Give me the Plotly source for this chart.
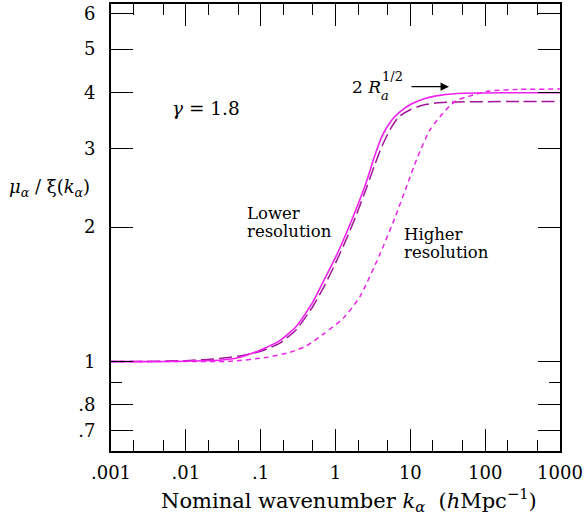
import plotly.graph_objects as go

# ---- data ----
k_low = [0.001, 0.003, 0.01, 0.03, 0.05, 0.072, 0.1, 0.18, 0.3, 0.5, 0.7, 1.0, 1.4, 1.9,
         2.6, 3.3, 4.2, 5.5, 7, 10, 15, 22, 42, 100, 300, 1000]
mu_low_solid = [1.0, 1.0, 1.002, 1.008, 1.02, 1.04, 1.062, 1.114, 1.20, 1.36, 1.52, 1.71, 1.94, 2.2,
                2.53, 2.87, 3.2, 3.45, 3.60, 3.76, 3.87, 3.93, 3.98, 3.99, 3.995, 3.995]
mu_low_dash = [1.0, 1.001, 1.005, 1.017, 1.028, 1.04, 1.055, 1.10, 1.18, 1.33, 1.47, 1.66, 1.88, 2.13,
               2.45, 2.74, 3.04, 3.33, 3.53, 3.66, 3.75, 3.79, 3.81, 3.815, 3.82, 3.82]

k_high = [0.001, 0.01, 0.039, 0.12, 0.246, 0.412, 0.687, 1.27, 2.13, 3.93, 6.24, 9.03,
          12.3, 18.3, 30.9, 42, 69, 116, 292, 1000]
mu_high = [1.0, 1.0, 1.0015, 1.022, 1.049, 1.085, 1.152, 1.25, 1.40, 1.74, 2.10, 2.48,
           2.85, 3.30, 3.68, 3.84, 3.95, 4.03, 4.065, 4.07]

x_tickvals = [0.001, 0.01, 0.1, 1, 10, 100, 1000]
x_ticktext = [".001", ".01", ".1", "1", "10", "100", "1000"]
x_minor = [m * 10.0 ** e for e in range(-3, 3) for m in (2, 5)]
y_tickvals = [0.7, 0.8, 1, 2, 3, 4, 5, 6]
y_ticktext = [".7", ".8", "1", "2", "3", "4", "5", "6"]
y_minor = [0.9]

FONT = "DejaVu Serif, serif"

fig = go.Figure()
fig.add_trace(go.Scatter(x=k_low, y=mu_low_dash, mode="lines",
                         line=dict(color="#a0179c", width=1.5, dash="13px,5px", shape="spline", smoothing=0.6)))
fig.add_trace(go.Scatter(x=k_high, y=mu_high, mode="lines",
                         line=dict(color="#ee22ee", width=1.5, dash="5px,4px", shape="spline", smoothing=0.6)))
fig.add_trace(go.Scatter(x=k_low, y=mu_low_solid, mode="lines",
                         line=dict(color="#f020f0", width=1.6, shape="spline", smoothing=0.6)))

L, R, T, B = 111, 560, 2, 451
W, H = 587, 521
PW, PH = R - L, B - T


def px(x):
    return (x - L) / PW


def py(y):
    return (B - y) / PH


axis_common = dict(showline=True, linecolor="black", linewidth=2, mirror="ticks",
                   ticks="inside", ticklen=22, tickwidth=1.3, tickcolor="black",
                   showgrid=False, zeroline=False,
                   tickfont=dict(family=FONT, size=18, color="black"))

fig.update_xaxes(type="log", range=[-3, 3], tickmode="array", tickvals=x_tickvals, ticktext=x_ticktext,
                 minor=dict(tickmode="array", tickvals=x_minor, ticks="inside", ticklen=11,
                            tickwidth=1.3, tickcolor="black", showgrid=False),
                 ticklabelstandoff=4, **axis_common)
fig.update_yaxes(type="log", range=[-0.2, 0.8], tickmode="array", tickvals=y_tickvals, ticktext=y_ticktext,
                 minor=dict(tickmode="array", tickvals=y_minor, ticks="inside", ticklen=11,
                            tickwidth=1.3, tickcolor="black", showgrid=False),
                 ticklabelstandoff=10, **axis_common)

ann = []


def text(t, x, y, size=16.5, xanchor="left", yanchor="middle"):
    ann.append(dict(text=t, x=px(x), y=py(y), xref="paper", yref="paper", showarrow=False,
                    xanchor=xanchor, yanchor=yanchor,
                    font=dict(family=FONT, size=size, color="black")))


text("<i>γ</i> = 1.8", 206, 107, size=18.5, xanchor="center")
text("Lower", 245, 212)
text("resolution", 245, 231)
text("Higher", 402, 234)
text("resolution", 402, 252)
text("2 <i>R</i>", 350, 85, size=17)
text("<i>a</i>", 379, 94, size=13)
text("1/2", 380, 75, size=13)
text("<i>μ</i><sub><i>α</i></sub> / ξ(<i>k</i><sub><i>α</i></sub>)", 92, 187, size=18, xanchor="right")
text("Nominal wavenumber <i>k</i><sub><i>α</i></sub>  (<i>h</i>Mpc<sup>−1</sup>)", 349, 500, size=21,
     xanchor="center")

ann.append(dict(x=px(449), y=py(85), xref="paper", yref="paper", ax=-39, ay=0,
                axref="pixel", ayref="pixel", text="", showarrow=True, arrowhead=2,
                arrowsize=1.3, arrowwidth=1.3, arrowcolor="black"))

fig.update_layout(width=W, height=H, margin=dict(l=L, r=W - R, t=T, b=H - B),
                  plot_bgcolor="white", paper_bgcolor="white", showlegend=False,
                  annotations=ann)

fig.write_html("out.html", config={"displayModeBar": False},
               post_script="document.body.style.margin='0';document.body.style.padding='0';")
